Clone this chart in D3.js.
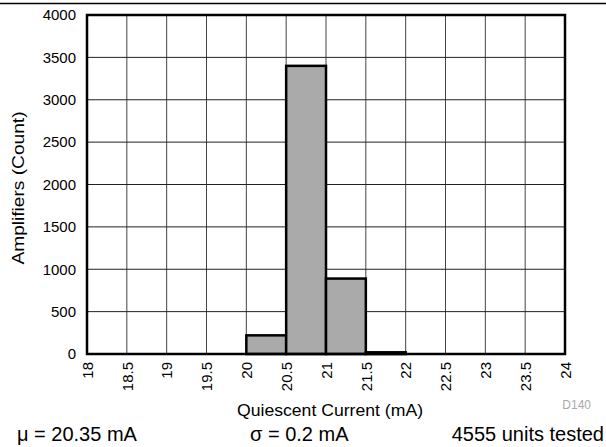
<!DOCTYPE html>
<html><head><meta charset="utf-8">
<script src="https://cdn.jsdelivr.net/npm/d3@7"></script>
<style>body{margin:0;background:#fff}svg{display:block;font-family:"Liberation Sans",Arial,sans-serif}</style>
</head><body><svg id="c" width="606" height="447"></svg>
<script>
const binStarts = [18,18.5,19,19.5,20,20.5,21,21.5,22,22.5,23,23.5];
const counts = [0,0,0,0,220,3400,890,20,0,0,0,0];
const xTicks = [18,18.5,19,19.5,20,20.5,21,21.5,22,22.5,23,23.5,24];
const yTicks = [0,500,1000,1500,2000,2500,3000,3500,4000];
const binWidth = 0.5;

const svg = d3.select("#c");
const L=87,R=565,T=15,B=354;
const x = d3.scaleLinear().domain([18,24]).range([L,R]);
const y = d3.scaleLinear().domain([0,4000]).range([B,T]);

svg.append("line").attr("x1",0).attr("x2",606).attr("y1",3.5).attr("y2",3.5).attr("stroke","#000").attr("stroke-width",1.5);

// grid
svg.append("g").selectAll("line").data(xTicks).join("line")
 .attr("x1",d=>x(d)).attr("x2",d=>x(d)).attr("y1",T).attr("y2",B).attr("stroke","#444").attr("stroke-width",1);
svg.append("g").selectAll("line").data(yTicks).join("line")
 .attr("x1",L).attr("x2",R).attr("y1",d=>y(d)).attr("y2",d=>y(d)).attr("stroke","#222").attr("stroke-width",1);

// bars
svg.append("g").selectAll("rect").data(binStarts.map((s,i)=>({s,c:counts[i]})).filter(d=>d.c>0)).join("rect")
 .attr("x",d=>x(d.s)).attr("width",d=>x(d.s+binWidth)-x(d.s))
 .attr("y",d=>y(d.c)).attr("height",d=>y(0)-y(d.c))
 .attr("fill","#aaaaaa").attr("stroke","#000").attr("stroke-width",2.5);

// frame
svg.append("rect").attr("x",L).attr("y",T).attr("width",R-L).attr("height",B-T).attr("fill","none").attr("stroke","#000").attr("stroke-width",2.5);

// axes labels
const ya = svg.append("g").attr("transform",`translate(${L},0)`).call(d3.axisLeft(y).tickValues(yTicks).tickSize(0).tickPadding(11).tickFormat(d3.format("d")));
ya.select(".domain").remove();
ya.selectAll("text").attr("font-size",15).attr("font-family","Liberation Sans, Arial, sans-serif").attr("fill","#000");

const xa = svg.append("g").attr("transform",`translate(0,${B})`).call(d3.axisBottom(x).tickValues(xTicks).tickSize(0).tickFormat(d=>String(d)));
xa.select(".domain").remove();
xa.selectAll("text").attr("font-size",15).attr("font-family","Liberation Sans, Arial, sans-serif").attr("fill","#000")
 .attr("transform","rotate(-90)").attr("text-anchor","end").attr("x",-8).attr("y",0).attr("dy","0.35em");

svg.append("text").attr("x",330).attr("y",416).attr("text-anchor","middle").attr("font-size",16)
 .attr("textLength",186).attr("lengthAdjust","spacingAndGlyphs").text("Quiescent Current (mA)");
svg.append("text").attr("transform","translate(24,188) rotate(-90)").attr("text-anchor","middle").attr("font-size",16)
 .attr("textLength",153).attr("lengthAdjust","spacingAndGlyphs").text("Amplifiers (Count)");
svg.append("text").attr("x",591).attr("y",409).attr("text-anchor","end").attr("font-size",12).attr("fill","#aaa").text("D140");

svg.append("text").attr("x",17).attr("y",441).attr("font-size",20).text("μ = 20.35 mA");
svg.append("text").attr("x",250).attr("y",441).attr("font-size",20).text("σ = 0.2 mA");
svg.append("text").attr("x",604).attr("y",441).attr("text-anchor","end").attr("font-size",20).text("4555 units tested");
</script></body></html>
